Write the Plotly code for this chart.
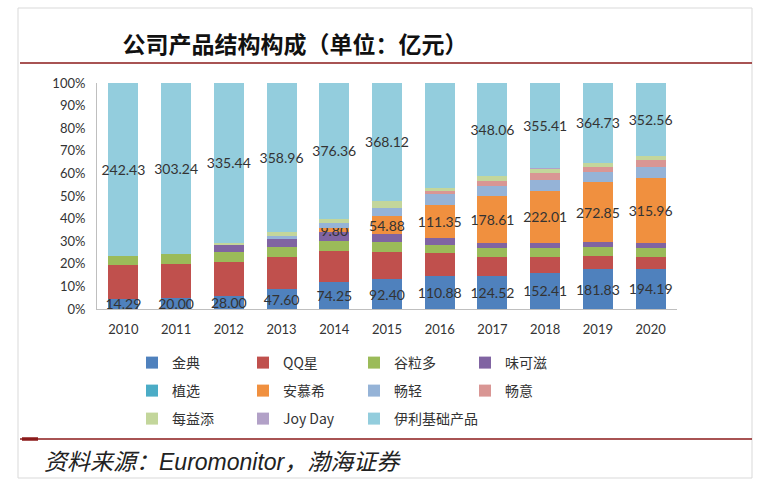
import plotly.graph_objects as go

years = ['2010', '2011', '2012', '2013', '2014', '2015', '2016', '2017', '2018', '2019', '2020']
jindian = [14.29, 20.00, 28.00, 47.60, 74.25, 92.40, 110.88, 124.52, 152.41, 181.83, 194.19]
qqxing = [47.5, 60.0, 70.0, 77.0, 87.0, 85.3, 78.5, 69.5, 67.0, 62.0, 58.6]
gulido = [12.7, 17.6, 22.3, 25.6, 27.8, 31.3, 27.4, 36.4, 38.0, 39.0, 40.0]
weikezi = [0, 0, 13.8, 17.5, 25.0, 25.6, 20.6, 16.1, 18.0, 22.7, 23.9]
zhixuan = [0, 0, 0, 0, 0, 0, 0, 0, 0, 0, 0]
anmuxi = [0, 0, 0, 0, 9.80, 54.88, 111.35, 178.61, 222.01, 272.85, 315.96]
changqing = [0, 0, 0, 8.2, 14.0, 27.7, 38.9, 37.3, 46.0, 46.0, 50.0]
changyi = [0, 0, 0, 0, 0, 0, 8.4, 18.6, 29.0, 25.0, 34.7]
meiyitian = [0, 0, 5.7, 10.4, 13.0, 21.3, 11.4, 18.6, 16.0, 18.5, 18.4]
joyday = [0, 0, 0, 0, 0, 0, 0, 0, 5.0, 0, 0]
jichu = [242.43, 303.24, 335.44, 358.96, 376.36, 368.12, 352.99, 348.06, 355.41, 364.73, 352.56]
pct_ticks = [0, 10, 20, 30, 40, 50, 60, 70, 80, 90, 100]
pct_labels = [f'{v}%' for v in pct_ticks]

W, H = 765, 493
L, R, T, B = 97, 677, 83, 309


def px(x):
    return (x - L) / (R - L)


def py(y):
    return (B - y) / (B - T)


series = [
    ('金典', jindian, '#4F81BD', True, 'legend'),
    ('QQ星', qqxing, '#C0504D', False, 'legend'),
    ('谷粒多', gulido, '#9BBB59', False, 'legend'),
    ('味可滋', weikezi, '#8064A2', False, 'legend'),
    ('植选', zhixuan, '#4BACC6', False, 'legend2'),
    ('安慕希', anmuxi, '#F0903F', True, 'legend2'),
    ('畅轻', changqing, '#95B3D7', False, 'legend2'),
    ('畅意', changyi, '#D99694', False, 'legend2'),
    ('每益添', meiyitian, '#C3D69B', False, 'legend3'),
    ('Joy Day', joyday, '#B2A1C7', False, 'legend3'),
    ('伊利基础产品', jichu, '#93CDDD', True, 'legend4'),
]

fig = go.Figure()
for name, vals, color, lab, lg in series:
    txt = [f'{v:.2f}' if v > 0 else '' for v in vals] if lab else None
    fig.add_trace(go.Bar(
        x=years, y=vals, name=name, marker=dict(color=color, line=dict(width=0)),
        text=txt, textposition='inside' if lab else 'none', insidetextanchor='middle',
        textangle=0, constraintext='none',
        textfont=dict(family='Lato, Liberation Sans', size=14, color='#333333'),
        legend=lg, cliponaxis=False,
    ))

font_cjk = 'Noto Sans CJK SC'
leg_common = dict(orientation='h', entrywidthmode='pixels',
                  xanchor='left', yanchor='middle', bgcolor='rgba(0,0,0,0)',
                  font=dict(family=font_cjk, size=14, color='#333333'),
                  itemclick=False, traceorder='normal', itemwidth=30)

shapes = [
    dict(type='rect', xref='paper', yref='paper', x0=px(18), x1=px(752), y0=py(478), y1=py(8),
         line=dict(color='#D9D9D9', width=1), fillcolor='rgba(0,0,0,0)', layer='below'),
    dict(type='line', xref='paper', yref='paper', x0=px(20), x1=px(752), y0=py(63), y1=py(63),
         line=dict(color='#8B1A1A', width=1.5)),
    dict(type='line', xref='paper', yref='paper', x0=px(20), x1=px(752), y0=py(439), y1=py(439),
         line=dict(color='#8B1A1A', width=1.5)),
    dict(type='line', xref='paper', yref='paper', x0=px(22), x1=px(38), y0=py(439), y1=py(439),
         line=dict(color='#8B1A1A', width=3.5)),
]

fig.update_layout(
    width=W, height=H, barmode='stack', barnorm='percent', bargap=0.43,
    margin=dict(l=L, r=W - R, t=T, b=H - B, pad=0),
    paper_bgcolor='white', plot_bgcolor='white',
    title=dict(text='<b>公司产品结构构成（单位：亿元）</b>', xref='container', yref='container',
               x=295 / W, y=1 - 45 / H, xanchor='center', yanchor='middle',
               font=dict(family=font_cjk, size=23, color='#111111')),
    xaxis=dict(showgrid=False, showline=True, linecolor='#BFBFBF', linewidth=1,
               ticks='outside', ticklen=8, tickcolor='rgba(0,0,0,0)',
               tickfont=dict(family='Lato, Liberation Sans', size=13, color='#333333')),
    yaxis=dict(range=[0, 100], tickmode='array', tickvals=pct_ticks, ticktext=pct_labels,
               showgrid=False, showline=True, linecolor='#BFBFBF', linewidth=1,
               ticks='outside', ticklen=8, tickcolor='rgba(0,0,0,0)', zeroline=False,
               tickfont=dict(family='Lato, Liberation Sans', size=13, color='#333333')),
    legend=dict(x=px(132), y=py(363), entrywidth=66, **leg_common),
    legend2=dict(x=px(132), y=py(391), entrywidth=66, **leg_common),
    legend3=dict(x=px(132), y=py(419), entrywidth=66, **leg_common),
    legend4=dict(x=px(354), y=py(419), **leg_common),
    shapes=shapes,
    annotations=[dict(text='资料来源：Euromonitor，渤海证券', xref='paper', yref='paper',
                      x=px(42), y=py(462), xanchor='left', yanchor='middle', showarrow=False,
                      font=dict(family='Liberation Sans, ' + font_cjk, size=23, color='#222222',
                                style='italic'))],
)

fig.write_html('out.html')
